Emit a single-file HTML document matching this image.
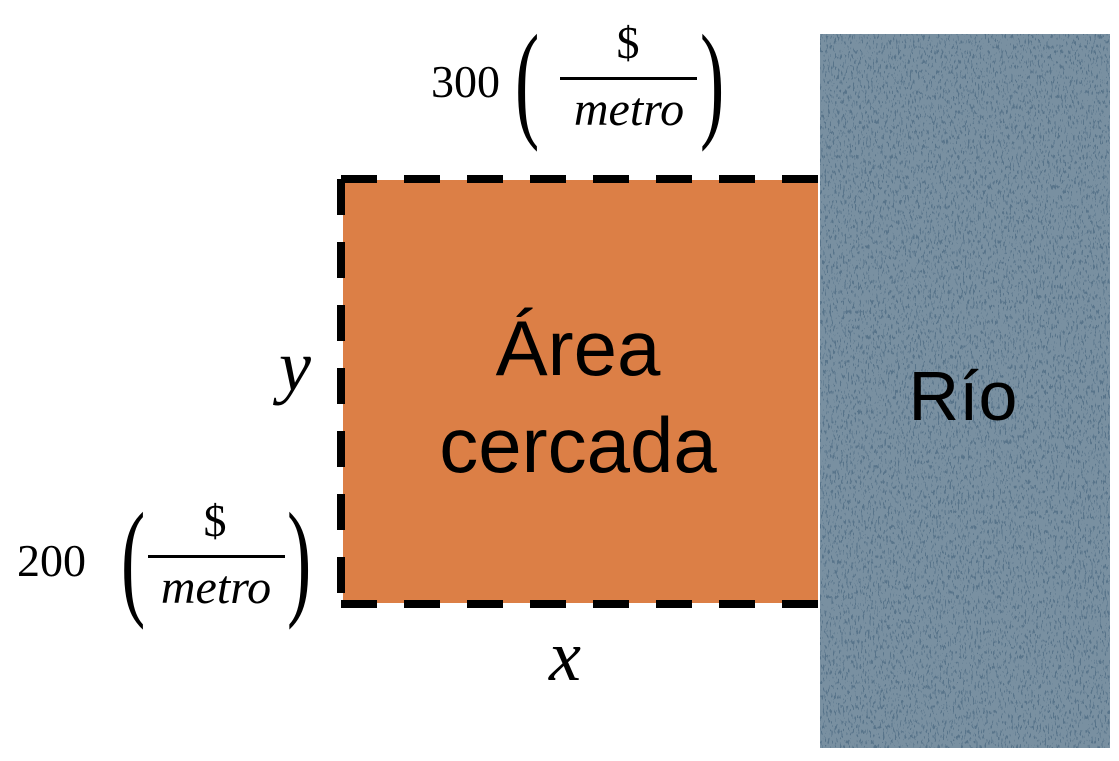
<!DOCTYPE html>
<html><head><meta charset="utf-8"><style>
html,body{margin:0;padding:0;background:#fff;}
svg{display:block;}
</style></head><body>
<svg width="1119" height="761" viewBox="0 0 1119 761" xmlns="http://www.w3.org/2000/svg">
<defs>
<filter id="n" x="0" y="0" width="100%" height="100%">
<feTurbulence type="fractalNoise" baseFrequency="0.6 0.2" numOctaves="2" seed="3" result="t"/>
<feColorMatrix in="t" type="matrix" values="0 0 0 0 1  0 0 0 0 1  0 0 0 0 1  0 0 0 -20 13" result="s"/>
<feComposite in="s" in2="SourceGraphic" operator="in"/>
</filter>
</defs>
<rect x="820" y="34" width="290" height="714" fill="#58748a"/>
<rect x="820" y="34" width="290" height="714" fill="#fff" filter="url(#n)" opacity="0.2"/>
<rect x="343" y="180" width="475" height="423" fill="#dc7f46"/>
<g stroke="#000" stroke-width="8" fill="none" stroke-dasharray="36 27">
<path d="M341 179 H818"/>
<path d="M341 179 V604"/>
<path d="M341 604 H818"/>
</g>
<g font-family="'Liberation Sans',sans-serif" fill="#000" text-anchor="middle">
<text x="578" y="375" font-size="78">Área</text>
<text x="578" y="472" font-size="78">cercada</text>
<text x="963" y="420" font-size="70">Río</text>
</g>
<g font-family="'Liberation Serif',serif" fill="#000">
<text x="295" y="390" font-size="72" font-style="italic" text-anchor="middle">y</text>
<text x="565" y="680" font-size="72" font-style="italic" text-anchor="middle">x</text>
<text x="17" y="576" font-size="46">200</text>
<text x="215" y="536" font-size="46" text-anchor="middle">$</text>
<rect x="148" y="555" width="137" height="3"/>
<text x="216" y="603" font-size="48" font-style="italic" text-anchor="middle">metro</text>
<text transform="translate(121 602) scale(1.4 2.5)" font-size="52">(</text>
<text transform="translate(287 602) scale(1.4 2.5)" font-size="52">)</text>
<text x="431" y="97" font-size="46">300</text>
<text x="628" y="58" font-size="46" text-anchor="middle">$</text>
<rect x="560" y="77" width="137" height="3"/>
<text x="629" y="125" font-size="48" font-style="italic" text-anchor="middle">metro</text>
<text transform="translate(515 124) scale(1.4 2.5)" font-size="52">(</text>
<text transform="translate(700 124) scale(1.4 2.5)" font-size="52">)</text>
</g>
</svg>
</body></html>
